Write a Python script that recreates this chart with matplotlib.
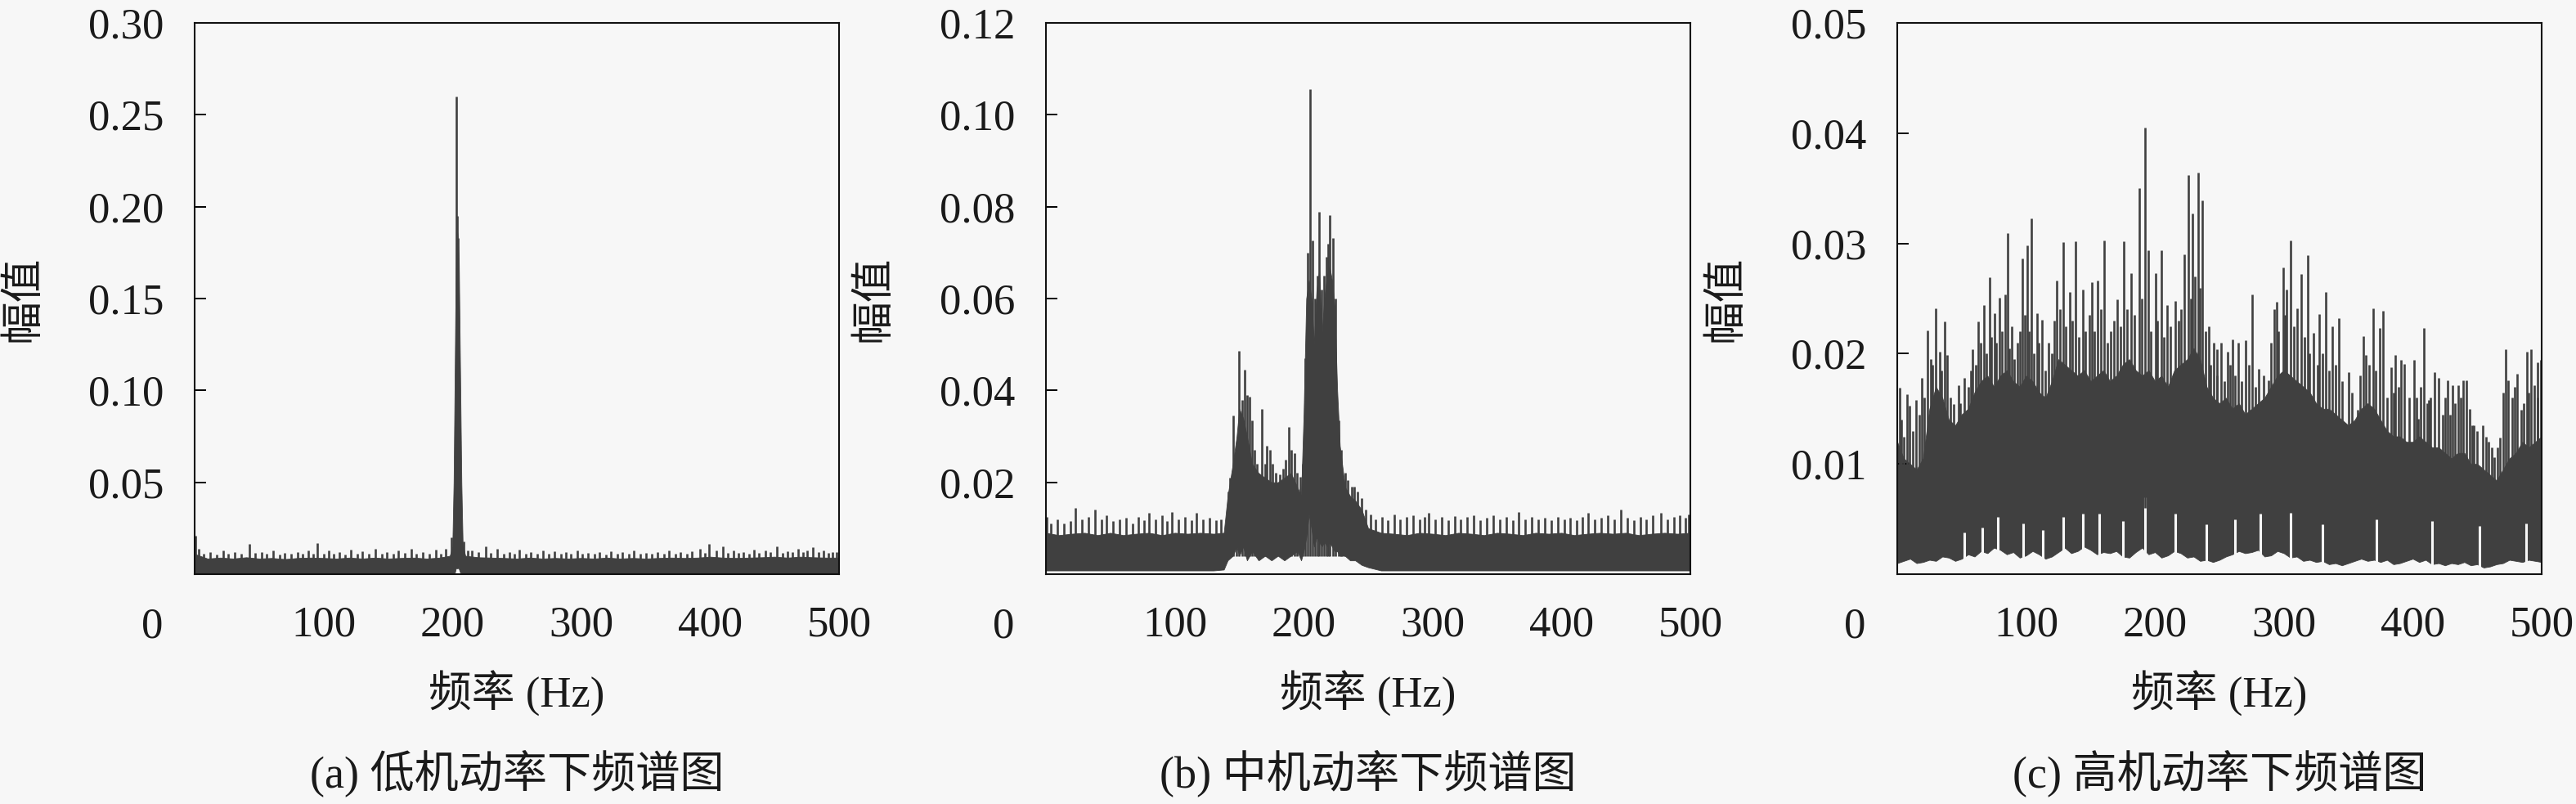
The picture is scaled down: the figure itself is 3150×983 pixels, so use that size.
import matplotlib
matplotlib.use('Agg')
import matplotlib.pyplot as plt

# ---------------- data ----------------
# Panel (a): low manoeuvre rate
a_body_f = [0, 10, 20, 30, 40, 50, 60, 70, 80, 90, 100, 110, 120, 130, 140, 150, 160, 170, 180, 190,
            198, 200, 201, 202, 203, 204, 205, 206, 207, 208,
            210, 220, 230, 240, 250, 260, 270, 280, 290, 300, 310, 320, 330, 340, 350, 360, 370, 380,
            390, 400, 410, 420, 430, 440, 450, 460, 470, 480, 490, 500]
a_body_up = [0.011, 0.0085, 0.009, 0.0085, 0.0092, 0.0085, 0.0088, 0.0082, 0.0088, 0.009, 0.0088, 0.0085,
             0.009, 0.0085, 0.009, 0.0085, 0.0088, 0.009, 0.0085, 0.009,
             0.010, 0.015, 0.05, 0.12, 0.19, 0.185, 0.17, 0.11, 0.05, 0.016,
             0.010, 0.0092, 0.009, 0.0088, 0.0085, 0.009, 0.0085, 0.0088, 0.0085, 0.0088, 0.0085, 0.009,
             0.0085, 0.0088, 0.0085, 0.0088, 0.009, 0.0088, 0.009, 0.0095, 0.009, 0.0088, 0.009, 0.0092,
             0.0095, 0.009, 0.0095, 0.0092, 0.009, 0.009]
a_body_lo = [0.0006] * 20 + [0.0006, 0.0006, 0.0006, 0.001, 0.004, 0.009, 0.003, 0.001, 0.0006, 0.0006] + [0.0006] * 30
a_spike_f = [0.5, 3, 7, 12, 17, 22, 26, 31, 36, 42.5, 47, 52, 56, 61, 66, 70, 75, 80, 84, 88, 92, 95,
             100, 104, 108, 112, 117, 121, 126, 130, 135, 140, 145, 149, 154, 158, 163, 168, 172,
             177, 182, 187, 191, 195, 199, 203, 203.6, 204.6, 209, 212, 215, 220, 226, 230, 235, 240,
             244, 248, 252, 257, 261, 266, 270, 275, 279, 284, 288, 292, 297, 301, 305, 310, 314, 319,
             323, 328, 332, 337, 341, 346, 350, 355, 359, 364, 368, 373, 377, 382, 386, 392, 396, 399,
             405, 410, 414, 418, 422, 426, 430, 434, 438, 443, 447, 452, 456, 460, 464, 468, 472, 475,
             480, 484, 488, 492, 495, 498]
a_spike_v = [0.021, 0.014, 0.011, 0.012, 0.0105, 0.013, 0.011, 0.012, 0.011, 0.0165, 0.0115, 0.012, 0.011,
             0.013, 0.0108, 0.0115, 0.011, 0.012, 0.0112, 0.013, 0.011, 0.017, 0.0112, 0.013, 0.011,
             0.012, 0.0108, 0.0135, 0.011, 0.0125, 0.011, 0.014, 0.0112, 0.012, 0.011, 0.013, 0.0115,
             0.014, 0.011, 0.012, 0.0112, 0.0135, 0.011, 0.014, 0.02, 0.26, 0.195, 0.183, 0.018, 0.013,
             0.013, 0.012, 0.015, 0.0115, 0.014, 0.011, 0.012, 0.011, 0.0135, 0.011, 0.012, 0.0112,
             0.013, 0.011, 0.0125, 0.0112, 0.012, 0.011, 0.013, 0.011, 0.0115, 0.011, 0.012, 0.0108,
             0.0125, 0.011, 0.012, 0.0112, 0.013, 0.011, 0.0115, 0.011, 0.012, 0.0112, 0.013, 0.011,
             0.012, 0.0112, 0.0125, 0.014, 0.0115, 0.0165, 0.013, 0.015, 0.0115, 0.013, 0.0115, 0.012,
             0.011, 0.0135, 0.0115, 0.013, 0.012, 0.015, 0.0115, 0.0125, 0.0118, 0.014, 0.012, 0.013,
             0.0145, 0.012, 0.013, 0.0115, 0.012, 0.0118]

# Panel (b): medium manoeuvre rate
b_body_f = [0, 10, 20, 30, 40, 50, 60, 70, 80, 90, 100, 110, 120, 130,
            138, 141, 145, 148, 150, 153, 156, 160, 165, 170, 175, 180, 185, 190, 195, 198,
            200, 202, 204, 206, 208, 210, 212, 214, 216, 218, 220, 222, 224, 226, 228,
            232, 236, 240, 245, 250,
            260, 270, 280, 290, 300, 310, 320, 330, 340, 350, 360, 370, 380, 390, 400, 410, 420, 430,
            440, 450, 460, 470, 480, 490, 500]
b_body_up = [0.009, 0.0085, 0.0088, 0.009, 0.0085, 0.009, 0.0085, 0.0088, 0.009, 0.0085, 0.009, 0.0088,
             0.009, 0.0088,
             0.009, 0.017, 0.024, 0.030, 0.036, 0.034, 0.030, 0.024, 0.022, 0.021, 0.020, 0.020, 0.021,
             0.022, 0.019, 0.017,
             0.035, 0.060, 0.064, 0.060, 0.050, 0.062, 0.066, 0.052, 0.060, 0.065, 0.067, 0.064, 0.058,
             0.040, 0.028,
             0.019, 0.017, 0.016, 0.014, 0.010,
             0.009, 0.0088, 0.0085, 0.009, 0.0088, 0.0085, 0.009, 0.0088, 0.0085, 0.009, 0.0088, 0.0085,
             0.009, 0.0088, 0.009, 0.0085, 0.0088, 0.009, 0.0088, 0.009, 0.0085, 0.0088, 0.009, 0.0088,
             0.009]
b_body_lo = [0.0008] * 14 + \
            [0.001, 0.003, 0.004, 0.006, 0.004, 0.006, 0.003, 0.005, 0.003, 0.004, 0.003, 0.004, 0.003,
             0.004, 0.005, 0.003,
             0.005, 0.008, 0.013, 0.010, 0.006, 0.008, 0.007, 0.006, 0.007, 0.006, 0.007, 0.006, 0.005,
             0.005, 0.004,
             0.004, 0.003, 0.003, 0.002, 0.0015] + [0.0008] * 25
b_spike_f = [0.5, 4, 9, 14, 19, 23, 28, 33, 38, 43, 47, 52, 57, 62, 67, 72, 76, 80, 85, 90, 94, 98, 103,
             108, 113, 117, 122, 127, 132, 136,
             141.3, 143, 145.5, 148, 149.7, 152, 154, 156, 158, 159.7, 162, 164, 167.3, 169.8, 171.5,
             173.7, 176, 178, 181.5, 183.7, 186, 188.4, 190.5, 193, 195, 197.3, 199, 201, 203, 205.1,
             207, 209, 210.5, 212.1, 214, 215.5, 217.5, 219, 220, 222.8, 224.4, 226.9, 229, 232, 234,
             237, 239.4, 242, 245, 248,
             252, 256, 261, 265, 270, 275, 280, 285, 290, 294, 297, 302, 307, 312, 317, 322, 327, 332,
             337, 342, 347, 352, 357, 362, 367, 372, 377, 382, 387, 392, 397, 402, 407, 412, 416, 421,
             426, 431, 436, 441, 446, 451, 456, 461, 466, 471, 477, 482, 487, 492, 496, 499]
b_spike_v = [0.0125, 0.011, 0.012, 0.011, 0.0115, 0.0145, 0.012, 0.0125, 0.014, 0.012, 0.0128, 0.0115,
             0.012, 0.0122, 0.011, 0.0125, 0.0118, 0.0134, 0.012, 0.0128, 0.0115, 0.0136, 0.012, 0.0125,
             0.0118, 0.0134, 0.012, 0.0123, 0.0118, 0.012,
             0.018, 0.021, 0.0345, 0.028, 0.0486, 0.038, 0.0445, 0.039, 0.0386, 0.0335, 0.027, 0.024,
             0.036, 0.024, 0.028, 0.027, 0.024, 0.022, 0.0218, 0.023, 0.025, 0.032, 0.027, 0.0263, 0.022,
             0.0212, 0.024, 0.047, 0.070, 0.1055, 0.0726, 0.060, 0.065, 0.0789, 0.062, 0.065, 0.069,
             0.072, 0.0781, 0.0732, 0.060, 0.0335, 0.027, 0.022, 0.0205, 0.019, 0.019, 0.018, 0.0165,
             0.014,
             0.013, 0.012, 0.0125, 0.0118, 0.013, 0.012, 0.0125, 0.0128, 0.012, 0.0125, 0.0134, 0.012,
             0.0125, 0.0118, 0.0126, 0.012, 0.0125, 0.0128, 0.0118, 0.0122, 0.0128, 0.012, 0.0125,
             0.0118, 0.0136, 0.012, 0.0125, 0.012, 0.0122, 0.0118, 0.0125, 0.012, 0.0123, 0.0118,
             0.0125, 0.0134, 0.012, 0.0122, 0.0128, 0.012, 0.0140, 0.0122, 0.0118, 0.0125, 0.012,
             0.0128, 0.0134, 0.012, 0.0125, 0.0128, 0.0123, 0.013]

# Panel (c): high manoeuvre rate
c_body_f = [0, 5, 10, 15, 20, 25, 30, 35, 40, 45, 50, 55, 60, 65, 70, 75, 80, 85, 90, 95,
            100, 105, 110, 115, 120, 125, 130, 135, 140, 145, 150, 155, 160, 165, 170, 175, 180, 185,
            190, 195, 200, 205, 210, 215, 220, 225, 230, 235, 240, 245, 250, 255, 260, 265, 270, 275,
            280, 285, 290, 295, 300, 305, 310, 315, 320, 325, 330, 335, 340, 345, 350, 355, 360, 365,
            370, 375, 380, 385, 390, 395, 400, 405, 410, 415, 420, 425, 430, 435, 440, 445, 450, 455,
            460, 465, 470, 475, 480, 485, 490, 495, 500]
c_body_up = [0.0120, 0.0105, 0.0100, 0.0095, 0.0105, 0.0150, 0.0170, 0.0160, 0.0140, 0.0135, 0.0145,
             0.0150, 0.0165, 0.0175, 0.0180, 0.0170, 0.0180, 0.0185, 0.0175, 0.0170, 0.0180, 0.0175,
             0.0165, 0.0160, 0.0175, 0.0195, 0.0190, 0.0185, 0.0180, 0.0185, 0.0175, 0.0180, 0.0185,
             0.0175, 0.0180, 0.0190, 0.0195, 0.0185, 0.0180, 0.0185, 0.0175, 0.0180, 0.0170, 0.0185,
             0.0190, 0.0195, 0.0205, 0.0195, 0.0170, 0.0160, 0.0155, 0.0160, 0.0150, 0.0155, 0.0145,
             0.0150, 0.0155, 0.0160, 0.0170, 0.0180, 0.0185, 0.0180, 0.0175, 0.0170, 0.0165, 0.0155,
             0.0150, 0.0150, 0.0145, 0.0140, 0.0135, 0.0140, 0.0150, 0.0155, 0.0150, 0.0140, 0.0130,
             0.0125, 0.0125, 0.0120, 0.0120, 0.0125, 0.0120, 0.0115, 0.0115, 0.0110, 0.0105, 0.0110,
             0.0110, 0.0100, 0.0100, 0.0095, 0.0090, 0.0085, 0.0095, 0.0105, 0.0110, 0.0120, 0.0115,
             0.0120, 0.0125]
c_body_lo = [0.0010, 0.0012, 0.0014, 0.0010, 0.0011, 0.0013, 0.0012, 0.0016, 0.0015, 0.0012, 0.0014,
             0.0018, 0.0016, 0.0021, 0.0019, 0.0024, 0.0022, 0.0018, 0.0020, 0.0015, 0.0017, 0.0021,
             0.0018, 0.0014, 0.0016, 0.0020, 0.0024, 0.0019, 0.0021, 0.0025, 0.0022, 0.0018, 0.0020,
             0.0019, 0.0021, 0.0016, 0.0015, 0.0020, 0.0024, 0.0018, 0.0020, 0.0015, 0.0017, 0.0021,
             0.0019, 0.0015, 0.0016, 0.0012, 0.0013, 0.0011, 0.0013, 0.0016, 0.0018, 0.0021, 0.0019,
             0.0020, 0.0022, 0.0016, 0.0017, 0.0021, 0.0019, 0.0015, 0.0016, 0.0012, 0.0013, 0.0011,
             0.0012, 0.0009, 0.0010, 0.0008, 0.0010, 0.0012, 0.0014, 0.0012, 0.0013, 0.0011, 0.0013,
             0.0009, 0.0010, 0.0012, 0.0014, 0.0011, 0.0013, 0.0009, 0.0010, 0.0008, 0.0010, 0.0009,
             0.0011, 0.0008, 0.0009, 0.0006, 0.0007, 0.0009, 0.0010, 0.0013, 0.0012, 0.0011, 0.0013,
             0.0012, 0.0011]
c_spike_f = [1.7, 7.4, 9.5, 14.8, 19, 23.7, 25.8, 30, 32.8, 37, 38.6, 44, 47.7, 52, 58.3, 63, 67.4,
             71.6, 75.2, 79.4, 83.7, 85.4, 89, 93.2, 97, 100.6, 104, 108.5, 112.3, 117.6, 124, 128.6,
             133.9, 138.3, 144, 151, 155.7, 160.4, 165.3, 170.6, 175.8, 181.6, 187.5, 192.4, 194.5,
             200.2, 205, 209.7, 215.7, 222.9, 225.8, 229.2, 233.5, 236.9, 241.5, 245.8,
             248.4, 251.5, 256.2, 260.4, 264.7, 270.6, 275.2, 280.7, 288, 292.8, 294.3, 299.2, 302,
             305.5, 310.4, 313.3, 318.6, 323.1, 327.1, 332.4, 337.3, 342.6, 350, 357.4, 361.6, 363.7,
             369, 374.3, 377.1, 383.4, 386.6, 390.8, 393.4, 401.2, 404.4, 408.6, 412.4, 416.6, 420.3,
             427.2, 431, 435.3, 438.9, 441.6, 444.2, 447.3, 454.3, 459, 463.2, 467.5, 472.1, 474.2,
             481.2, 484, 488.6, 491.8, 494, 496.7, 499.2]
c_spike_v = [0.0169, 0.0163, 0.0153, 0.0158, 0.0178, 0.0221, 0.0195, 0.0241, 0.0202, 0.0229, 0.0199,
             0.0154, 0.0171, 0.0178, 0.0204, 0.0229, 0.0244, 0.0269, 0.0237, 0.0251, 0.0254, 0.0309,
             0.0225, 0.0210, 0.0286, 0.0298, 0.0323, 0.0237, 0.0231, 0.0210, 0.0266, 0.0301, 0.0256,
             0.0302, 0.0258, 0.0265, 0.0266, 0.0303, 0.0220, 0.0249, 0.0302, 0.0273, 0.0350, 0.0405,
             0.0294, 0.0273, 0.0294, 0.0244, 0.0248, 0.0290, 0.0362, 0.0327, 0.0364, 0.0339, 0.0225,
             0.0210,
             0.0204, 0.0210, 0.0202, 0.0213, 0.0210, 0.0212, 0.0254, 0.0186, 0.0176, 0.0240, 0.0247,
             0.0278, 0.0258, 0.0303, 0.0241, 0.0272, 0.0289, 0.0219, 0.0236, 0.0256, 0.0225, 0.0232,
             0.0183, 0.0149, 0.0216, 0.0199, 0.0241, 0.0223, 0.0239, 0.0188, 0.0199, 0.0194, 0.0191,
             0.0194, 0.0141, 0.0223, 0.0158, 0.0183, 0.0178, 0.0176, 0.0171, 0.0171, 0.0176, 0.0176,
             0.0150, 0.0135, 0.0135, 0.0120, 0.0106, 0.0124, 0.0204, 0.0176, 0.0182, 0.0149, 0.0202,
             0.0204, 0.0171, 0.0192, 0.0194]
c_mid_f = [3, 5, 12, 17, 21, 27, 34, 41, 43, 49, 55, 57, 61, 65, 69, 73, 77, 81, 87, 91, 95, 99, 102,
           106, 110, 115, 120, 122, 126, 131, 136, 141, 146, 149, 153, 158, 163, 168, 173, 178, 184,
           190, 197, 202, 207, 212, 218, 220, 228, 231, 235, 239, 243, 248, 254, 258, 262, 267, 273,
           278, 284, 290, 296, 301, 308, 316, 320, 326, 330, 335, 340, 345, 353, 359, 366, 371, 380,
           385, 389, 397, 403, 406, 411, 414, 423, 425, 429, 433, 437, 446, 450, 457, 461, 466, 470,
           477, 479, 486, 490, 497]
c_mid_v = [0.014, 0.0125, 0.013, 0.0145, 0.016, 0.019, 0.0185, 0.016, 0.0135, 0.0155, 0.017, 0.0185,
           0.019, 0.021, 0.020, 0.0215, 0.021, 0.022, 0.0205, 0.0195, 0.022, 0.0235, 0.022, 0.020,
           0.021, 0.0185, 0.020, 0.023, 0.024, 0.0225, 0.023, 0.0215, 0.022, 0.0235, 0.022, 0.024,
           0.021, 0.023, 0.0225, 0.024, 0.0235, 0.025, 0.022, 0.023, 0.0215, 0.0225, 0.023, 0.024,
           0.025, 0.027, 0.026, 0.022, 0.019, 0.018, 0.0175, 0.019, 0.018, 0.0175, 0.019, 0.017,
           0.018, 0.021, 0.022, 0.0235, 0.0225, 0.0215, 0.020, 0.019, 0.020, 0.0185, 0.019, 0.0175,
           0.0165, 0.018, 0.019, 0.0185, 0.016, 0.0165, 0.017, 0.016, 0.016, 0.017, 0.0155, 0.016,
           0.0145, 0.016, 0.0145, 0.0155, 0.016, 0.0135, 0.013, 0.0125, 0.0115, 0.0115, 0.0165,
           0.016, 0.017, 0.0155, 0.0165, 0.016]
c_notch_f = [52, 66, 78, 98, 113, 129, 144, 157, 175, 192, 216, 240, 262, 282, 305, 330, 372, 415,
             452, 488]
c_notch_v = [0.0038, 0.0042, 0.0052, 0.0046, 0.0040, 0.0052, 0.0055, 0.0055, 0.0048, 0.0070, 0.0055,
             0.0045, 0.0050, 0.0055, 0.0056, 0.0045, 0.0050, 0.0048, 0.0044, 0.0046]

y_max = [0.30, 0.12, 0.05]
y_ticks = [[0.05, 0.10, 0.15, 0.20, 0.25, 0.30],
           [0.02, 0.04, 0.06, 0.08, 0.10, 0.12],
           [0.01, 0.02, 0.03, 0.04, 0.05]]
x_ticks = [100, 200, 300, 400, 500]
x_label = '频率 (Hz)'
y_label = '幅值'
captions = ['(a) 低机动率下频谱图', '(b) 中机动率下频谱图', '(c) 高机动率下频谱图']

# ---------------- drawing ----------------
BG = '#f7f7f7'
FILL = '#404040'
TXT = '#1a1a1a'
FONTS = ['Liberation Serif', 'Noto Sans CJK SC', 'DejaVu Sans']
plt.rcParams['font.family'] = FONTS

W, H = 3150, 983
fig = plt.figure(figsize=(W / 100, H / 100), dpi=100, facecolor=BG)

lefts_px = [238, 1279, 2320]
ax_w_px, top_px, bot_px = 788, 28, 702
spike_base = [0.003, 0.004, 0.006]

panels = [
    (a_body_f, a_body_up, a_body_lo, [(a_spike_f, a_spike_v)], None, None),
    (b_body_f, b_body_up, b_body_lo, [(b_spike_f, b_spike_v)], None, None),
    (c_body_f, c_body_up, c_body_lo, [(c_mid_f, c_mid_v), (c_spike_f, c_spike_v)],
     c_notch_f, c_notch_v),
]

for i, (bf, bu, bl, spikes, nf, nv) in enumerate(panels):
    ax = fig.add_axes([lefts_px[i] / W, 1 - bot_px / H, ax_w_px / W, (bot_px - top_px) / H])
    ax.set_facecolor(BG)
    ax.fill_between(bf, bl, bu, color=FILL, lw=0.6, edgecolor=FILL)
    if nf is not None:
        ax.vlines(nf, 0, nv, color=BG, lw=2.2)
    for sf, sv in spikes:
        ax.vlines(sf, spike_base[i], sv, color=FILL, lw=1.9)
    ax.set_xlim(0, 500)
    ax.set_ylim(0, y_max[i])
    ax.set_xticks(x_ticks)
    ax.set_xticklabels([str(v) for v in x_ticks])
    ax.set_yticks(y_ticks[i])
    ax.set_yticklabels([f'{v:.2f}' for v in y_ticks[i]])
    ax.tick_params(axis='y', direction='in', length=10, width=1.4, pad=27,
                   labelsize=38, labelcolor=TXT)
    ax.tick_params(axis='x', length=0, pad=28, labelsize=38, labelcolor=TXT)
    for s in ax.spines.values():
        s.set_linewidth(1.5)
        s.set_color('#111111')
        s.set_zorder(5)
    # shared origin label
    ax.text(-52 / ax_w_px, -41 / (bot_px - top_px), '0', transform=ax.transAxes,
            ha='center', va='top', fontsize=38, color=TXT)
    ax.set_xlabel(x_label, fontsize=38, color=TXT)
    ax.xaxis.set_label_coords(0.5, -118 / (bot_px - top_px))
    ax.set_ylabel(y_label, fontsize=38, color=TXT, family=['Noto Sans CJK SC'])
    ax.yaxis.set_label_coords(-184 / ax_w_px, 0.5)
    ax.text(0.5, -214 / (bot_px - top_px), captions[i], transform=ax.transAxes,
            ha='center', va='top', fontsize=39, color=TXT)

fig.savefig('out.png', dpi=100, facecolor=BG)
